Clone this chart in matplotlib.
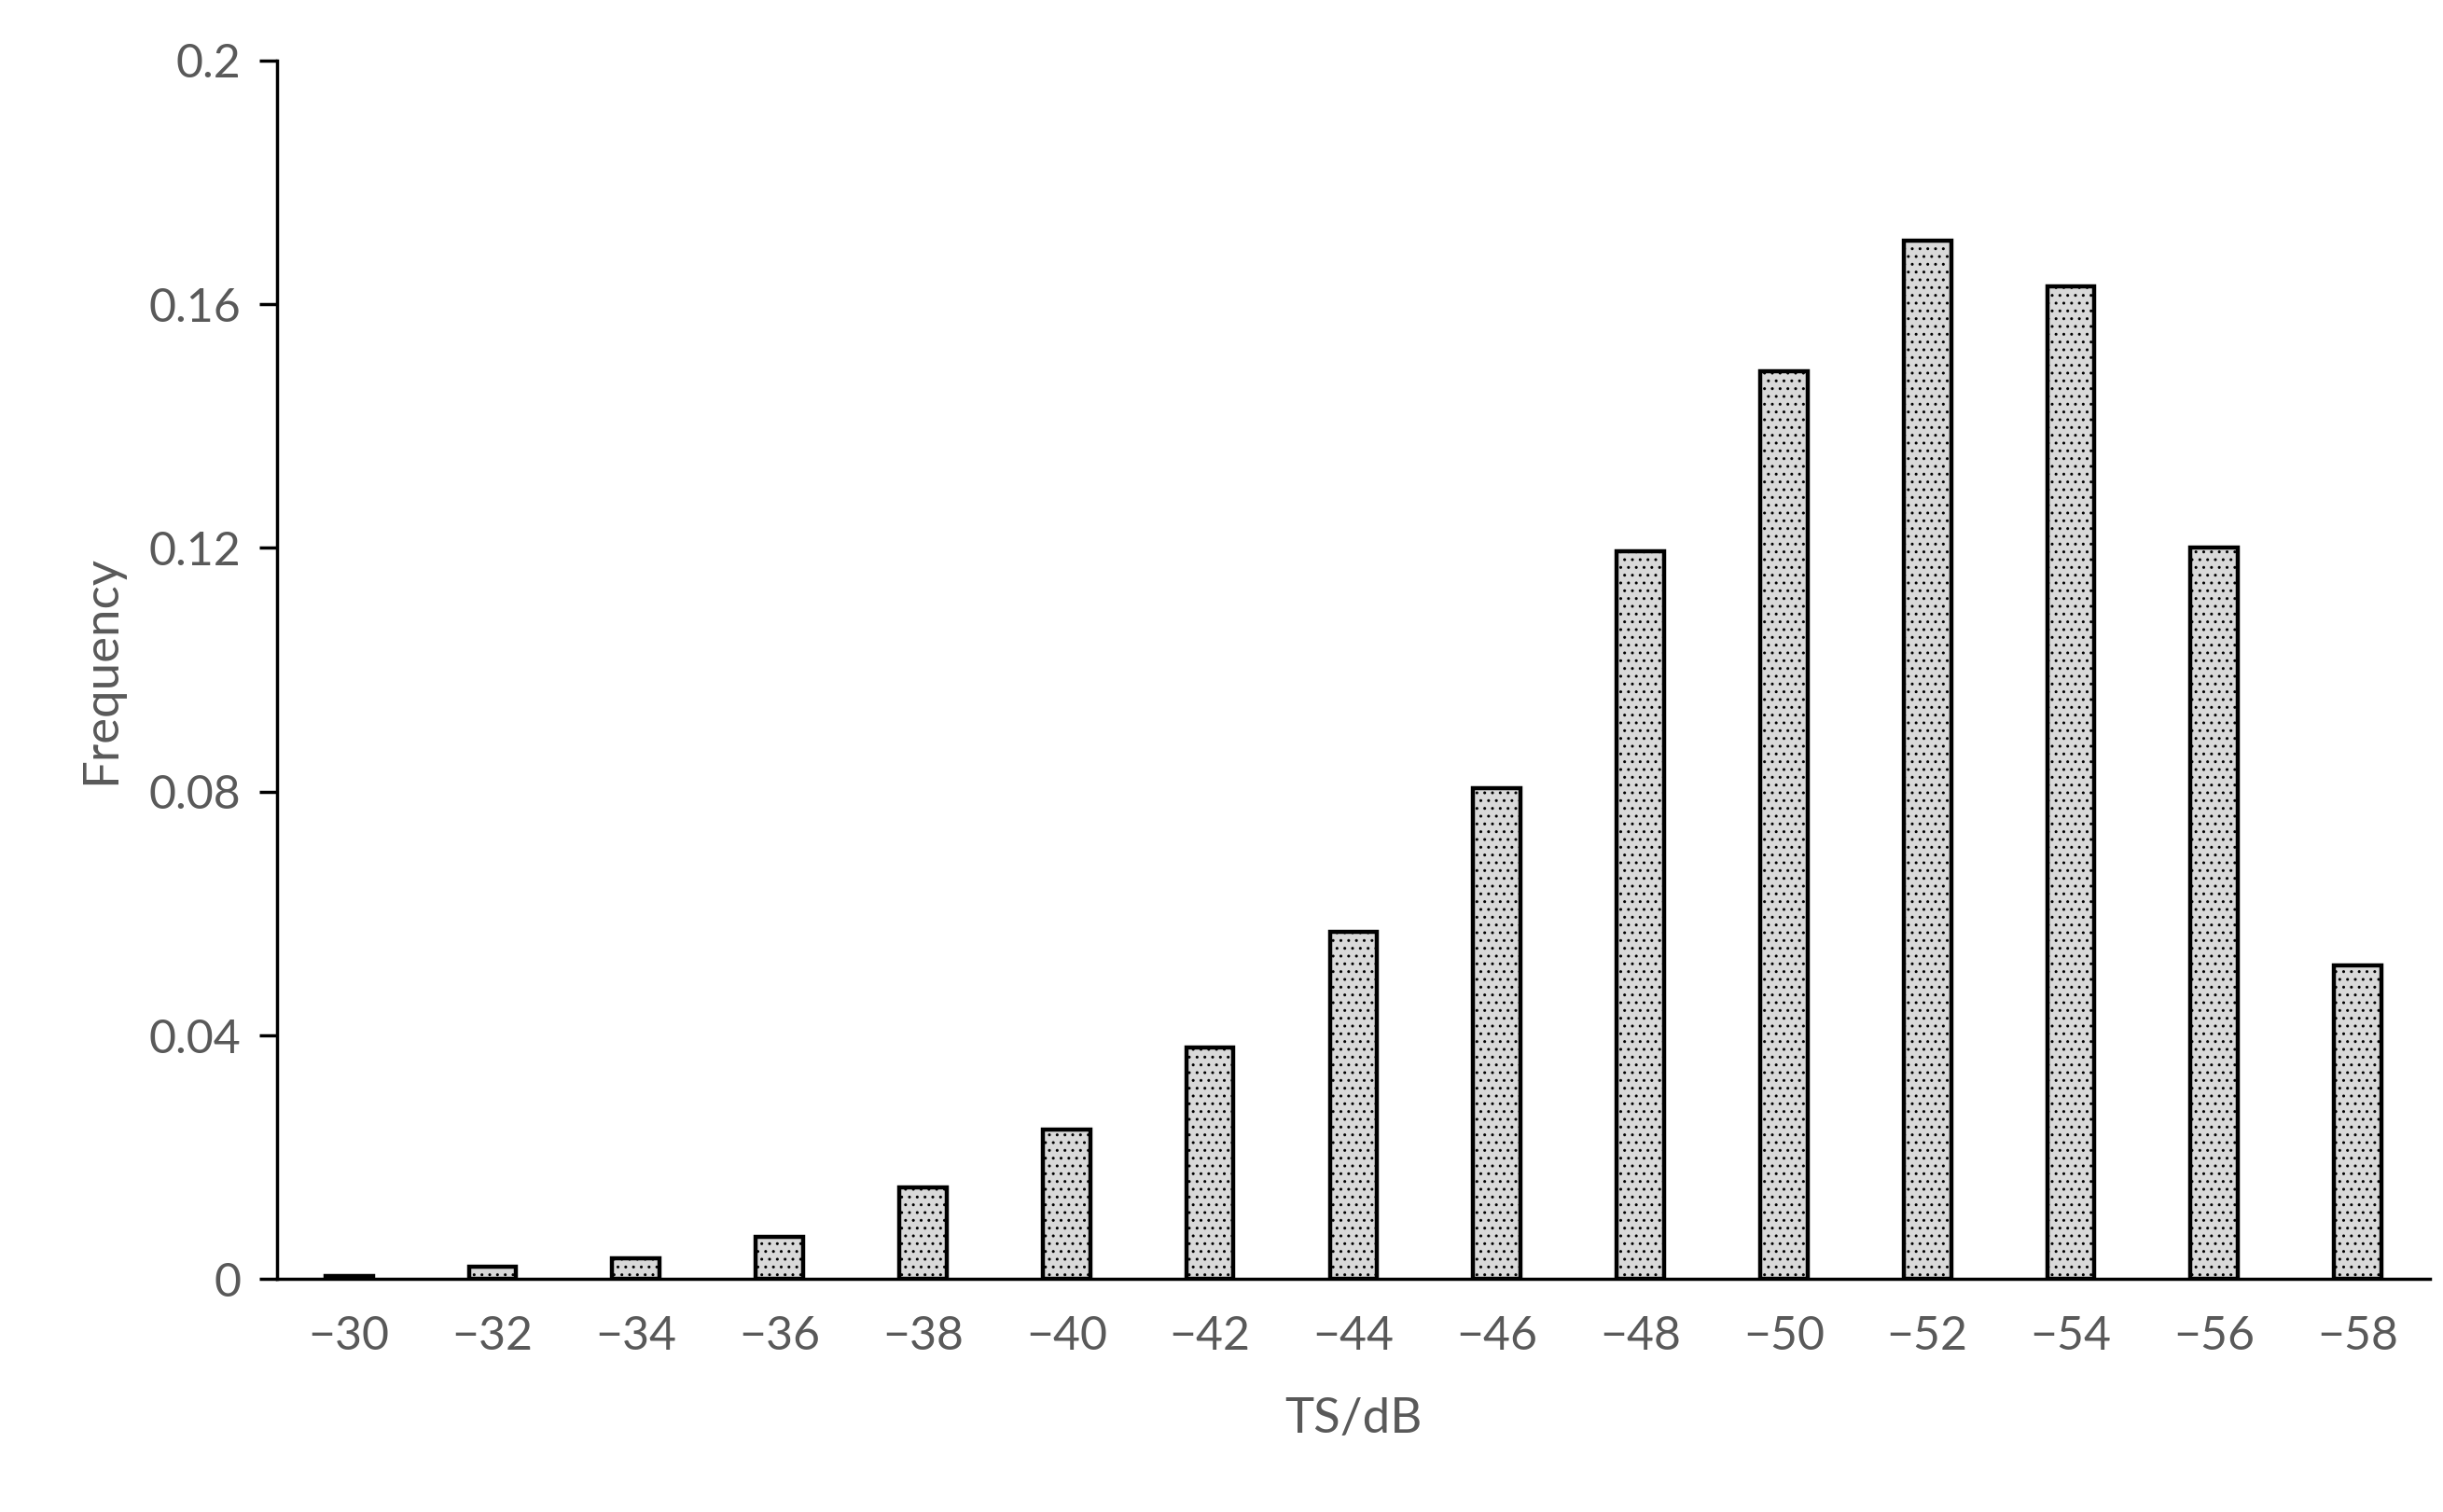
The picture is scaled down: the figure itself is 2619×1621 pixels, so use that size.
import matplotlib
matplotlib.use("Agg")
import matplotlib.pyplot as plt

# ── Data ──────────────────────────────────────────────────────────────────────
ts_labels = ["\u221230", "\u221232", "\u221234", "\u221236", "\u221238", "\u221240",
             "\u221242", "\u221244", "\u221246", "\u221248", "\u221250", "\u221252",
             "\u221254", "\u221256", "\u221258"]
frequency = [0.0005, 0.002, 0.0035, 0.007, 0.015, 0.0245, 0.038, 0.057,
             0.0805, 0.1195, 0.149, 0.1705, 0.163, 0.120, 0.0515]
y_ticks = [0, 0.04, 0.08, 0.12, 0.16, 0.2]
y_tick_labels = ["0", "0.04", "0.08", "0.12", "0.16", "0.2"]

plt.rcParams["font.family"] = ["Lato", "DejaVu Sans"]
grey = "#595959"

fig = plt.figure(figsize=(26.19, 16.21), dpi=100)
ax = fig.add_axes([0.1135, 0.154, 0.881, 0.806])

x = range(len(frequency))
ax.bar(x, frequency, width=0.33, color="#d9d9d9", edgecolor="black",
       linewidth=3.2, hatch="..", zorder=2)
plt.rcParams["hatch.color"] = "#bfbfbf"

ax.set_xlim(-0.5, len(frequency) - 0.5)
ax.set_ylim(0, 0.2)
ax.set_xticks(list(x))
ax.set_xticklabels(ts_labels)
ax.set_yticks(y_ticks)
ax.set_yticklabels(y_tick_labels)

for side in ("top", "right"):
    ax.spines[side].set_visible(False)
for side in ("left", "bottom"):
    ax.spines[side].set_linewidth(2.5)
    ax.spines[side].set_color("black")

ax.tick_params(axis="x", length=0, pad=28, labelsize=36, labelcolor=grey)
ax.tick_params(axis="y", direction="out", length=14, width=2.5, pad=14,
               labelsize=36, labelcolor=grey)

ax.set_xlabel("TS/dB", fontsize=38, color=grey, labelpad=30)
ax.set_ylabel("Frequency", fontsize=38, color=grey, labelpad=20)

fig.savefig("out.png", dpi=100)
